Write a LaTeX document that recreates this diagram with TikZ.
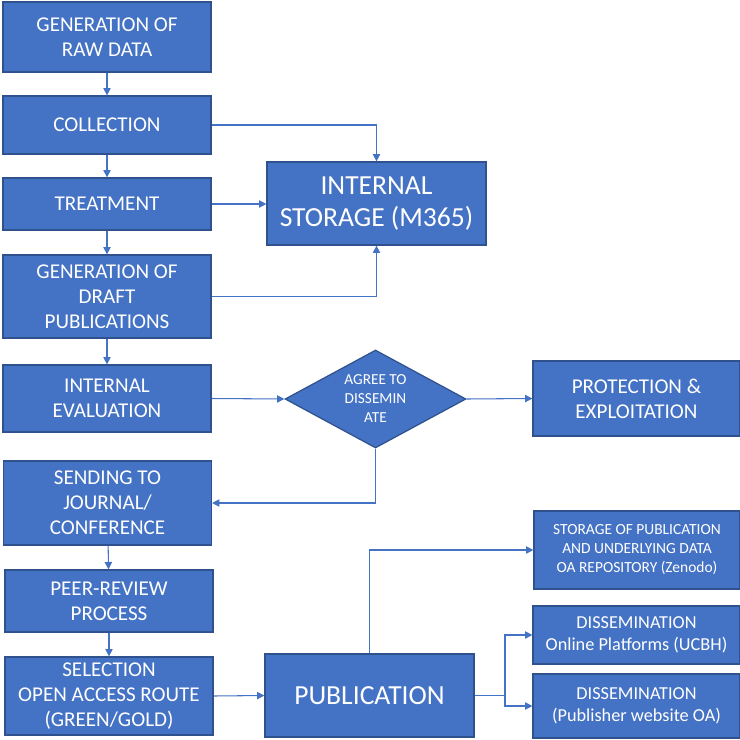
\documentclass[tikz,border=0pt]{standalone}
\usepackage{fontspec}
\setmainfont{Carlito}
\usetikzlibrary{arrows.meta}
\usetikzlibrary{shapes.geometric}
\definecolor{officeblue}{HTML}{4472C4}
\definecolor{officeedge}{HTML}{2F528F}

\begin{document}
\begin{tikzpicture}[x=0.02cm, y=-0.02cm,
    stage/.style={%
        draw=officeedge, fill=officeblue, text=white,
        line width=0.7pt, align=center, inner sep=1pt,
        minimum width=4.16cm,
        font=\fontsize{12}{14.2}\selectfont},
    bigstage/.style={%
        stage, font=\fontsize{15.7}{18.5}\selectfont},
    outcome/.style={%
        stage, minimum width=4.14cm},
    decision/.style={%
        diamond, aspect=1.85, draw=officeedge, fill=officeblue, text=white,
        line width=0.7pt, align=center, inner sep=0pt,
        minimum width=3.62cm, minimum height=1.96cm,
        font=\fontsize{8.7}{10.8}\selectfont},
    flow/.style={%
        draw=officeblue, line width=0.6pt,
        -{Triangle[length=4.2pt,width=4.2pt]}},
]
    \useasboundingbox (0,0) rectangle (740,740);

    % Left column
    \node[stage, minimum height=1.40cm] (raw)   at (107,37)    {GENERATION OF\\RAW DATA};
    \node[stage, minimum height=1.16cm] (coll)  at (107,125)   {COLLECTION};
    \node[stage, minimum height=1.04cm] (treat) at (107,204)   {TREATMENT};
    \node[stage, minimum height=1.66cm] (draft) at (107,296.5) {GENERATION OF\\DRAFT\\PUBLICATIONS};
    \node[stage, minimum height=1.34cm] (eval)  at (107,398.5) {INTERNAL\\EVALUATION};
    \node[stage, minimum height=1.68cm] (send)  at (107.5,503) {SENDING TO\\JOURNAL/\\CONFERENCE};
    \node[stage, minimum height=1.24cm] (peer)  at (109,601)   {PEER-REVIEW\\PROCESS};
    \node[stage, minimum height=1.56cm] (sel)   at (109,696)   {SELECTION\\OPEN ACCESS ROUTE\\(GREEN/GOLD)};

    % Middle column
    \node[bigstage, minimum width=4.38cm, minimum height=1.66cm] (m365) at (376.5,203.5) {INTERNAL\\STORAGE (M365)};
    \node[decision] (agree) at (375.5,399) {AGREE TO\\DISSEMIN\\ATE};
    \node[bigstage, minimum width=4.18cm, minimum height=1.66cm] (pub) at (369.5,695.5) {PUBLICATION};

    % Right column
    \node[outcome, minimum height=1.50cm] (protect) at (636.5,398.5) {PROTECTION \&\\EXPLOITATION};
    \node[outcome, minimum width=4.12cm, minimum height=1.56cm,
          font=\fontsize{8.8}{10.8}\selectfont] (zenodo) at (637,550)
          {STORAGE OF PUBLICATION\\AND UNDERLYING DATA\\OA REPOSITORY (Zenodo)};
    \node[outcome, minimum height=1.16cm,
          font=\fontsize{10.4}{12.5}\selectfont] (online) at (636.5,635) {DISSEMINATION\\Online Platforms (UCBH)};
    \node[outcome, minimum height=1.28cm,
          font=\fontsize{10.4}{12.5}\selectfont] (site)   at (636.5,706) {DISSEMINATION\\(Publisher website OA)};

    % Connectors
    \draw[flow] (raw) -- (coll);
    \draw[flow] (coll) -- (treat);
    \draw[flow] (treat) -- (draft);
    \draw[flow] (draft) -- (eval);
    \draw[flow] (send) -- (peer);
    \draw[flow] (peer) -- (sel);
    \draw[flow] (coll.east) -| (m365.north);
    \draw[flow] (treat.east) -- (m365.west |- treat.east);
    \draw[flow] (draft.east) -| (m365.south);
    \draw[flow] (eval.east) -- (agree.west);
    \draw[flow] (agree.east) -- (protect.west);
    \draw[flow] (agree.south) |- (send.east);
    \draw[flow] (sel.east) -- (pub.west);
    \draw[flow] (pub.north) |- (zenodo.west);
    \coordinate (fork) at (505,695.5);
    \draw[draw=officeblue, line width=0.6pt] (pub.east) -- (fork);
    \draw[flow] (fork) |- (online.west);
    \draw[flow] (fork) |- (site.west);
\end{tikzpicture}
\end{document}
